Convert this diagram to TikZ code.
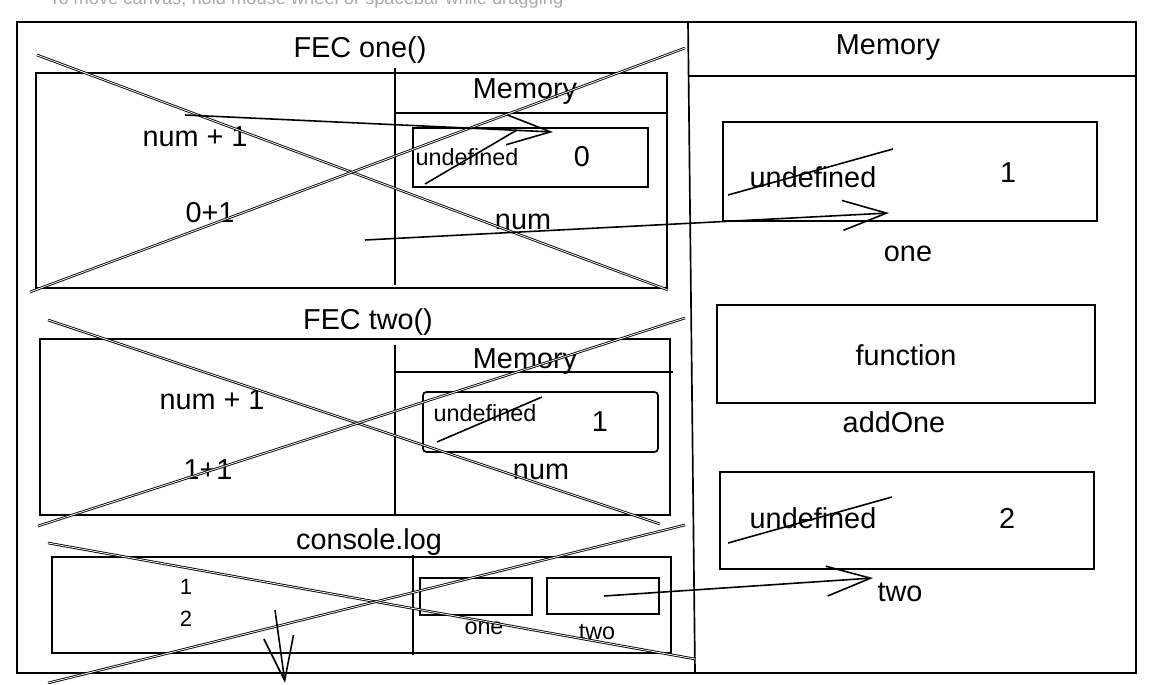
\documentclass[tikz,border=0pt]{standalone}
\usepackage{fontspec}
\setmainfont{Liberation Sans}
\usetikzlibrary{arrows.meta, positioning, fit}
\definecolor{hintgray}{RGB}{170,170,170}

\begin{document}
\begin{tikzpicture}[x=0.02cm, y=-0.02cm,
    frame/.style={draw, line width=1pt, inner sep=0pt},
    box/.style={draw, line width=0.95pt, inner sep=0pt},
    rule/.style={line width=0.95pt},
    txt/.style={inner sep=0pt, font=\fontsize{16.4}{18}\selectfont},
    smalltxt/.style={inner sep=0pt, font=\fontsize{13.3}{15}\selectfont},
    tinytxt/.style={inner sep=0pt, font=\fontsize{12.6}{14}\selectfont},
    strike/.style={line width=0.9pt},
    cross/.style={double, double distance=0.45pt, line width=0.5pt},
    arrow/.style={line width=0.9pt, -{Straight Barb[length=25pt, width=17pt]}}
]
    \useasboundingbox (0,0) rectangle (1152,685);

    % Hint
    \node[anchor=base west, inner sep=0pt, text=hintgray, font=\fontsize{10.4}{12}\selectfont] (hint) at (49,5) {To move canvas, hold mouse wheel or spacebar while dragging};

    % Frame
    \node[frame, fit={(17,22) (1136,673)}] (page) {};
    \draw[rule] (688,22) -- (695,673);

    % Global memory
    \node[txt] (memG) at (888,48) {Memory};
    \draw[rule] (688,76) -- (1136,76);
    \node[box, fit={(723,122) (1097,221)}] (oneBox) {};
    \node[txt] (oneUndef) at (813,177) {undefined};
    \node[txt] (oneVal) at (1008,173) {1};
    \node[txt] (oneName) at (908,254) {one};
    \draw[strike] (728,195) -- (893,149);
    \node[box, fit={(717,305) (1095,403)}] (fnBox) {};
    \node[txt] (fnVal) at (906,355) {function};
    \node[txt] (fnName) at (894,422) {addOne};
    \node[box, fit={(720,472) (1094,569)}] (twoBox) {};
    \node[txt] (twoUndef) at (813,518) {undefined};
    \node[txt] (twoVal) at (1007,518) {2};
    \node[txt] (twoName) at (900,592) {two};
    \draw[strike] (728,543) -- (892,497);

    % FEC one()
    \node[txt] (fecOne) at (360,50) {FEC one()};
    \node[box, fit={(36,73) (667,288)}] (ctxOne) {};
    \draw[rule] (395,68) -- (395,285);
    \node[txt] (memOne) at (525,92) {Memory};
    \draw[rule] (395,113) -- (667,113);
    \node[box, fit={(413,128) (648,187)}] (slotOne) {};
    \node[smalltxt] (slotOneUndef) at (467,157) {undefined};
    \node[txt] (slotOneVal) at (582,157) {0};
    \node[txt] (slotOneName) at (523,222) {num};
    \node[txt] (exprOne) at (195,137) {num + 1};
    \node[txt] (evalOne) at (210,213) {0+1};
    \draw[strike] (425,184) -- (517,130);
    \draw[cross] (37,55) -- (668,290);
    \draw[cross] (30,292) -- (685,48);

    % FEC two()
    \node[txt] (fecTwo) at (368,322) {FEC two()};
    \node[box, fit={(40,339) (670,515)}] (ctxTwo) {};
    \draw[rule] (395,345) -- (395,515);
    \node[txt] (memTwo) at (525,362) {Memory};
    \draw[rule] (395,372) -- (673,372);
    \node[box, rounded corners=2pt, fit={(423,392) (658,452)}] (slotTwo) {};
    \node[smalltxt] (slotTwoUndef) at (485,413) {undefined};
    \node[txt] (slotTwoVal) at (600,422) {1};
    \node[txt] (slotTwoName) at (541,472) {num};
    \node[txt] (exprTwo) at (212,400) {num + 1};
    \node[txt] (evalTwo) at (208,470) {1+1};
    \draw[strike] (437,442) -- (542,397);
    \draw[cross] (48,320) -- (660,524);
    \draw[cross] (38,526) -- (685,318);

    % console.log
    \node[txt] (logTitle) at (369,542) {console.log};
    \node[box, fit={(52,557) (671,653)}] (logBox) {};
    \draw[rule] (413,555) -- (413,655);
    \node[tinytxt] (logA) at (186,587) {1};
    \node[tinytxt] (logB) at (186,619) {2};
    \node[box, fit={(420,578) (532,615)}] (logOne) {};
    \node[smalltxt] (logOneName) at (484,628) {one};
    \node[box, fit={(547,578) (659,614)}] (logTwo) {};
    \node[smalltxt] (logTwoName) at (597,632) {two};
    \draw[cross] (48,543) -- (695,659);
    \draw[cross] (48,683) -- (685,525);

    % Arrows
    \coordinate (exprFrom) at (185,115);
    \coordinate (slotOneIn) at (553,132);
    \coordinate (numFrom) at (365,240);
    \coordinate (oneIn) at (889,213);
    \coordinate (twoFrom) at (604,596);
    \coordinate (twoIn) at (873,578);
    \coordinate (logFrom) at (275,610);
    \coordinate (logOut) at (285,683);
    \draw[arrow] (exprFrom) -- (slotOneIn);
    \draw[arrow] (numFrom) -- (oneIn);
    \draw[arrow] (twoFrom) -- (twoIn);
    \draw[arrow] (logFrom) -- (logOut);
\end{tikzpicture}
\end{document}
